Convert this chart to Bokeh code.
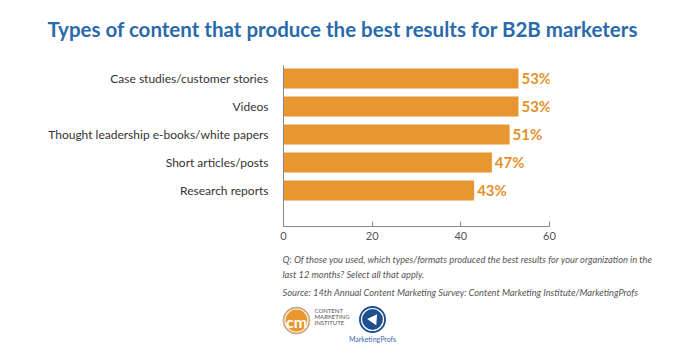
from bokeh.plotting import figure
from bokeh.models import Range1d, FixedTicker, ColumnDataSource
from bokeh.layouts import column
from bokeh.embed import file_html
from bokeh.resources import INLINE
from bokeh.core.properties import value

# ---- data ----
categories = ["Case studies/customer stories", "Videos",
              "Thought leadership e-books/white papers",
              "Short articles/posts", "Research reports"]
values = [53, 53, 51, 47, 43]
value_labels = ["53%", "53%", "51%", "47%", "43%"]
x_ticks = [0, 20, 40, 60]

title_text = "Types of content that produce the best results for B2B marketers"
note_lines = ["Q: Of those you used, which types/formats produced the best results for your organization in the",
              "last 12 months? Select all that apply.",
              "Source: 14th Annual Content Marketing Survey: Content Marketing Institute/MarketingProfs"]

BAR = "#E8962F"
LBL = "#E4912B"
BLUE = "#2A6AAA"
GRAY = "#555555"

n = len(categories)
ypos = [n - i for i in range(n)]


def blank(fig):
    fig.frame_align = False
    fig.axis.visible = False
    fig.xgrid.visible = False
    fig.ygrid.visible = False
    fig.outline_line_color = None


# ---- header (coordinates = page pixels) ----
h = figure(width=692, height=50, output_backend="svg", toolbar_location=None,
           x_range=Range1d(0, 692), y_range=Range1d(50, 0), min_border=0)
blank(h)
h.text(x=[47], y=[28], text=[title_text], text_font=value("Lato"),
       text_font_style="bold", text_font_size="20.5px", text_color=BLUE,
       text_baseline="middle")

# ---- main chart: frame (page pixels) left 283, right 549, top 65, bottom 226
p = figure(width=692, height=198, output_backend="svg", toolbar_location=None,
           x_range=Range1d(0, 60), y_range=Range1d(-0.286, n + 0.464),
           min_border_left=283, min_border_right=143, min_border_top=15,
           min_border_bottom=22)
p.frame_align = False
p.outline_line_color = None
p.xgrid.visible = False
p.ygrid.visible = False

src = ColumnDataSource(dict(y=ypos, v=values, lab=value_labels, cat=categories))
p.hbar(y="y", left=0, right="v", height=20 / 28, source=src,
       fill_color=BAR, line_color=None)
p.text(x="v", y="y", text="lab", source=src, x_offset=3,
       text_baseline="middle", text_align="left",
       text_font=value("Lato"), text_font_style="bold",
       text_font_size="15px", text_color=LBL)

p.xaxis.ticker = FixedTicker(ticks=x_ticks)
p.xaxis.axis_line_color = "#8a8a8a"
p.xaxis.major_tick_line_color = "#8a8a8a"
p.xaxis.major_tick_in = 5
p.xaxis.major_tick_out = 0
p.xaxis.minor_tick_line_color = None
p.xaxis.major_label_text_font = "Lato"
p.xaxis.major_label_text_font_size = "11px"
p.xaxis.major_label_text_color = GRAY
p.xaxis.major_label_standoff = 5

p.yaxis.ticker = FixedTicker(ticks=ypos)
p.yaxis.major_label_overrides = {y: c for y, c in zip(ypos, categories)}
p.yaxis.axis_line_color = "#8a8a8a"
p.yaxis.major_tick_line_color = None
p.yaxis.minor_tick_line_color = None
p.yaxis.major_label_text_font = "Lato"
p.yaxis.major_label_text_font_size = "12px"
p.yaxis.major_label_text_color = "#333333"
p.yaxis.major_label_standoff = 9

# ---- footer (coordinates = page pixels) ----
f = figure(width=692, height=103, output_backend="svg", toolbar_location=None,
           x_range=Range1d(0, 692), y_range=Range1d(351, 248),
           min_border=0)
blank(f)

for t, yy in zip(note_lines, [259, 274, 292]):
    f.text(x=[282], y=[yy], text=[t], text_font=value("Lato"),
           text_font_style="italic", text_font_size="9.3px",
           text_color=GRAY, text_baseline="middle")

# CMI logo
f.scatter(x=[296], y=[320], size=27, fill_color="#E8962F", line_color="#bbbbbb", line_width=1)
f.scatter(x=[296], y=[320], size=23, fill_color=None, line_color="white", line_width=1.2)
f.text(x=[296], y=[321], text=["cm"], text_font=value("Lato"), text_font_style="bold",
       text_font_size="16px", text_color="white", text_align="center", text_baseline="middle")
for t, yy in zip(["CONTENT", "MARKETING", "INSTITUTE"], [310, 316, 322]):
    f.text(x=[314], y=[yy], text=[t], text_font=value("Lato"), text_font_size="6px",
           text_color="#555555", text_baseline="middle")
# MarketingProfs logo
f.scatter(x=[372], y=[319], size=27, fill_color="#1F4F8F", line_color=None)
f.scatter(x=[372], y=[319], size=22, fill_color=None, line_color="white", line_width=1.2)
f.scatter(x=[373], y=[319], size=11, marker="triangle", angle=-0.6, fill_color="white", line_color=None)
f.text(x=[372], y=[338], text=["MarketingProfs"], text_font=value("Lato"),
       text_font_size="7px", text_color="#3A6BB0", text_align="center", text_baseline="middle")

lay = column(h, p, f, spacing=0)
open("out.html", "w").write(file_html(lay, INLINE))
